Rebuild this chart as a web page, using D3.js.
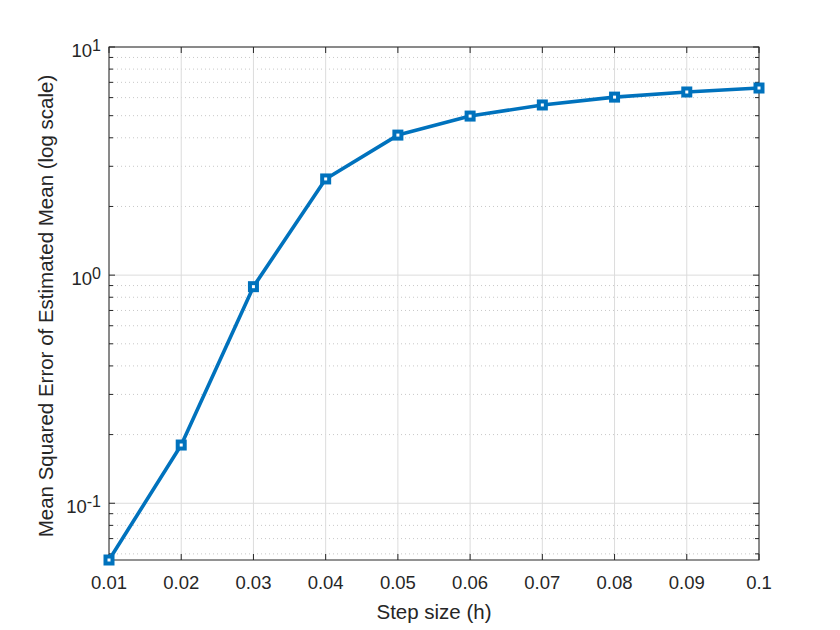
<!DOCTYPE html>
<html>
<head>
<meta charset="utf-8">
<script src="https://cdn.jsdelivr.net/npm/d3@7"></script>
<style>
  body { margin: 0; background: #fff; }
  svg { font-family: "Liberation Sans", Arial, sans-serif; }
</style>
</head>
<body>
<svg width="840" height="630"></svg>
<script>
// data
const stepSizes = [0.01, 0.02, 0.03, 0.04, 0.05, 0.06, 0.07, 0.08, 0.09, 0.1];
const mseValues = [0.0564, 0.18, 0.89, 2.64, 4.11, 4.98, 5.57, 6.03, 6.35, 6.61];
const xTickLabels = ["0.01", "0.02", "0.03", "0.04", "0.05", "0.06", "0.07", "0.08", "0.09", "0.1"];
const yDecades = [-1, 0, 1];

const svg = d3.select("svg");
const pLeft = 109, pRight = 759, pTop = 47, pBottom = 560;
const axisColor = "#262626";

const x = d3.scaleLinear().domain([0.01, 0.1]).range([pLeft, pRight]);
const y = d3.scaleLog().domain([0.0564, 10]).range([pBottom, pTop]);

// minor grid (dotted)
let minors = [];
for (let e = -2; e <= 0; e++) {
  for (let m = 2; m <= 9; m++) {
    const v = m * Math.pow(10, e);
    if (v >= y.domain()[0] && v <= 10) minors.push(v);
  }
}
svg.append("g").selectAll("line").data(minors).enter().append("line")
  .attr("x1", pLeft).attr("x2", pRight)
  .attr("y1", d => y(d)).attr("y2", d => y(d))
  .attr("stroke", "#c8c8c8").attr("stroke-width", 1)
  .attr("stroke-dasharray", "1,3");

// major grid
svg.append("g").selectAll("line").data(stepSizes).enter().append("line")
  .attr("x1", d => x(d)).attr("x2", d => x(d))
  .attr("y1", pTop).attr("y2", pBottom)
  .attr("stroke", "#dcdcdc").attr("stroke-width", 1);
svg.append("g").selectAll("line").data(yDecades).enter().append("line")
  .attr("x1", pLeft).attr("x2", pRight)
  .attr("y1", d => y(Math.pow(10, d))).attr("y2", d => y(Math.pow(10, d)))
  .attr("stroke", "#dcdcdc").attr("stroke-width", 1);

// box + inward ticks
svg.append("rect").attr("x", pLeft).attr("y", pTop)
  .attr("width", pRight - pLeft).attr("height", pBottom - pTop)
  .attr("fill", "none").attr("stroke", axisColor).attr("stroke-width", 1);

const tk = svg.append("g").attr("stroke", axisColor).attr("stroke-width", 1);
stepSizes.forEach(d => {
  tk.append("line").attr("x1", x(d)).attr("x2", x(d)).attr("y1", pBottom).attr("y2", pBottom - 6);
  tk.append("line").attr("x1", x(d)).attr("x2", x(d)).attr("y1", pTop).attr("y2", pTop + 6);
});
yDecades.forEach(d => {
  const yy = y(Math.pow(10, d));
  tk.append("line").attr("x1", pLeft).attr("x2", pLeft + 6).attr("y1", yy).attr("y2", yy);
  tk.append("line").attr("x1", pRight).attr("x2", pRight - 6).attr("y1", yy).attr("y2", yy);
});
minors.forEach(d => {
  tk.append("line").attr("x1", pLeft).attr("x2", pLeft + 4).attr("y1", y(d)).attr("y2", y(d));
  tk.append("line").attr("x1", pRight).attr("x2", pRight - 4).attr("y1", y(d)).attr("y2", y(d));
});

// x tick labels
svg.append("g").selectAll("text").data(stepSizes).enter().append("text")
  .attr("x", d => x(d)).attr("y", pBottom + 29)
  .attr("text-anchor", "middle").attr("font-size", 18.5).attr("fill", axisColor)
  .text((d, i) => xTickLabels[i]);

// y tick labels 10^n
yDecades.forEach(d => {
  const t = svg.append("text")
    .attr("x", pLeft - 8).attr("y", y(Math.pow(10, d)) + 9.5)
    .attr("text-anchor", "end").attr("font-size", 18.5).attr("fill", axisColor);
  t.append("tspan").text("10");
  t.append("tspan").attr("dy", -6).attr("font-size", 16).text(d);
});

// axis labels
svg.append("text").attr("x", (pLeft + pRight) / 2).attr("y", 619)
  .attr("text-anchor", "middle").attr("font-size", 20.5).attr("fill", axisColor)
  .text("Step size (h)");
svg.append("text")
  .attr("transform", "translate(53," + 306 + ") rotate(-90)")
  .attr("text-anchor", "middle").attr("font-size", 20.5).attr("fill", axisColor)
  .text("Mean Squared Error of Estimated Mean (log scale)");

// line + markers
const pts = stepSizes.map((d, i) => [d, mseValues[i]]);
const line = d3.line().x(d => x(d[0])).y(d => y(d[1]));
svg.append("path").datum(pts).attr("d", line)
  .attr("fill", "none").attr("stroke", "#0072BD").attr("stroke-width", 3.6)
  .attr("stroke-linejoin", "round");
svg.append("g").selectAll("rect").data(pts).enter().append("rect")
  .attr("x", d => x(d[0]) - 3.5).attr("y", d => y(d[1]) - 3.5)
  .attr("width", 7).attr("height", 7)
  .attr("fill", "#ffffff").attr("stroke", "#0072BD").attr("stroke-width", 4);
</script>
</body>
</html>
